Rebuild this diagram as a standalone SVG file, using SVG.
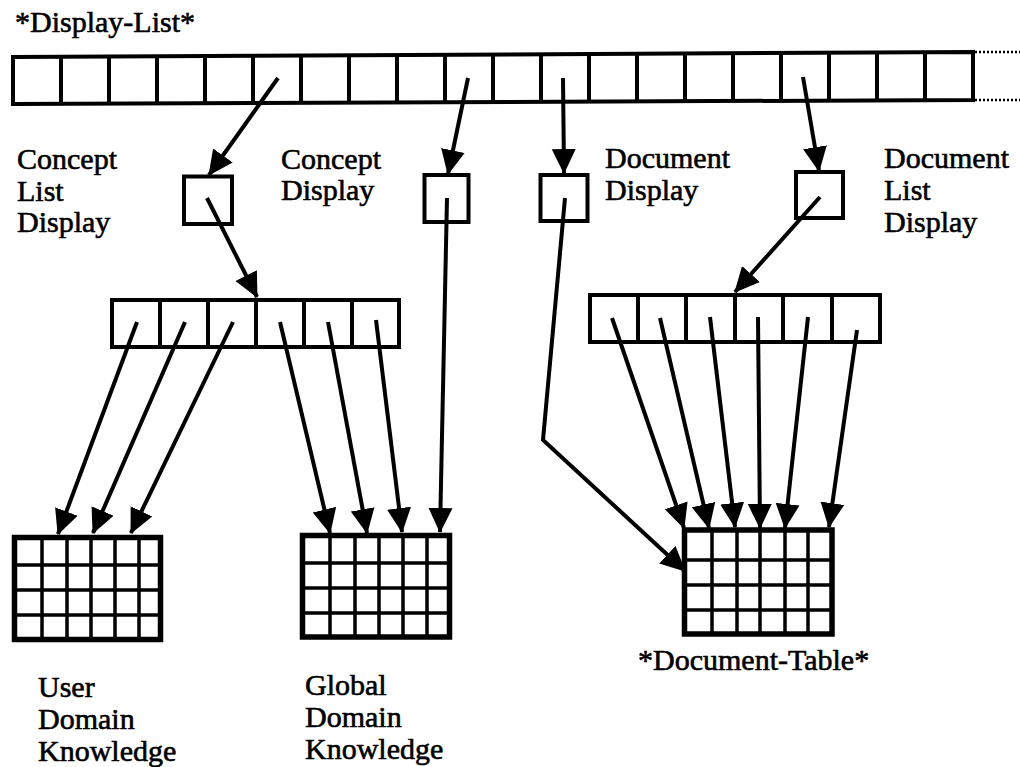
<svg xmlns="http://www.w3.org/2000/svg" width="1020" height="767" viewBox="0 0 1020 767">
<style>
.t{font-family:"Liberation Serif","Times New Roman",serif;font-size:30px;fill:#000;stroke:#000;stroke-width:0.6}
.b{fill:#fff;stroke:#000;stroke-width:4}
.d{stroke:#000;stroke-width:4;fill:none}
.go{fill:#fff;stroke:#000;stroke-width:5.5}
.gi{stroke:#000;stroke-width:3.5;fill:none}
.c{stroke:#000;stroke-width:4;fill:none;marker-end:url(#ah)}
.dot{stroke:#000;stroke-width:2.5;stroke-dasharray:2 2;fill:none}
</style>
<defs>
<marker id="ah" markerUnits="userSpaceOnUse" markerWidth="28" markerHeight="26" refX="24" refY="13" orient="auto" viewBox="0 0 28 26">
<path d="M0,1 L25,13 L0,25 z" fill="#000"/>
</marker>
</defs>
<rect width="1020" height="767" fill="#fff"/>

<g id="display-list">
<text class="t" x="15" y="32">*Display-List*</text>
<polygon class="b" points="13,57 973,52 973,100 13,104"/>
<path class="d" d="M61,57V104M109,56V104M157,56V103M205,56V103M253,56V103M301,55V102M349,55V102M397,55V102M445,55V102M493,54V102M541,54V102M589,54V101M637,54V101M685,53V101M733,53V101M781,53V101M829,53V101M877,52V100M925,52V100"/>
<path class="dot" d="M975,52H1020M975,100H1020"/>
</g>

<g id="concept-list-display">
<rect class="b" x="184" y="176.5" width="48" height="47.5"/>
<text class="t" x="17" y="169">Concept</text>
<text class="t" x="17" y="201">List</text>
<text class="t" x="17" y="232">Display</text>
</g>

<g id="concept-display">
<rect class="b" x="424.5" y="175" width="44" height="47"/>
<text class="t" x="281" y="169">Concept</text>
<text class="t" x="281" y="200">Display</text>
</g>

<g id="document-display">
<rect class="b" x="540.5" y="175" width="47" height="46"/>
<text class="t" x="605" y="168">Document</text>
<text class="t" x="605" y="200">Display</text>
</g>

<g id="document-list-display">
<rect class="b" x="796" y="172" width="47" height="46"/>
<text class="t" x="884" y="168">Document</text>
<text class="t" x="884" y="200">List</text>
<text class="t" x="884" y="232">Display</text>
</g>

<g id="concept-list">
<rect class="b" x="112" y="300" width="287" height="47"/>
<path class="d" d="M160,300V347M208,300V347M256,300V347M304,300V347M352,300V347"/>
</g>

<g id="document-list">
<rect class="b" x="590" y="295" width="290" height="47"/>
<path class="d" d="M638,295V342M686,295V342M735,295V342M783,295V342M832,295V342"/>
</g>

<g id="user-domain-knowledge">
<rect class="go" x="14.5" y="537.5" width="146" height="102"/>
<path class="gi" d="M42,537V640M67,537V640M91,537V640M115,537V640M139,537V640M14,565H161M14,590H161M14,615H161"/>
<text class="t" x="38" y="697">User</text>
<text class="t" x="38" y="729">Domain</text>
<text class="t" x="38" y="761">Knowledge</text>
</g>

<g id="global-domain-knowledge">
<rect class="go" x="302.5" y="535.5" width="147" height="101.5"/>
<path class="gi" d="M330,535V637M355,535V637M379,535V637M403,535V637M427,535V637M302,563H450M302,588H450M302,613H450"/>
<text class="t" x="305" y="695">Global</text>
<text class="t" x="305" y="727">Domain</text>
<text class="t" x="305" y="759">Knowledge</text>
</g>

<g id="document-table">
<rect class="go" x="684.5" y="530" width="147.5" height="104"/>
<path class="gi" d="M712,530V634M737,530V634M760,530V634M785,530V634M808,530V634M684,560H832M684,585H832M684,610H832"/>
<text class="t" x="638" y="670">*Document-Table*</text>
</g>

<g id="connectors">
<path class="c" d="M278,78L209,175"/>
<path class="c" d="M468,78L448,174"/>
<path class="c" d="M563,78L564,173"/>
<path class="c" d="M803,77L819,171"/>
<path class="c" d="M207,198L257,297"/>
<path class="c" d="M820,197L735,292"/>
<path class="c" d="M447,198L440,532"/>
<path class="c" d="M565,198L543,440L685,571"/>
<path class="c" d="M137,322L58,534"/>
<path class="c" d="M185,322L93,533"/>
<path class="c" d="M233,322L131,533"/>
<path class="c" d="M280,322L330,533"/>
<path class="c" d="M328,322L367,533"/>
<path class="c" d="M376,320L402,532"/>
<path class="c" d="M612,318L684,528"/>
<path class="c" d="M660,318L709,528"/>
<path class="c" d="M710,317L735,527"/>
<path class="c" d="M758,317L760,528"/>
<path class="c" d="M808,317L785,528"/>
<path class="c" d="M857,330L829,527"/>
</g>
</svg>
